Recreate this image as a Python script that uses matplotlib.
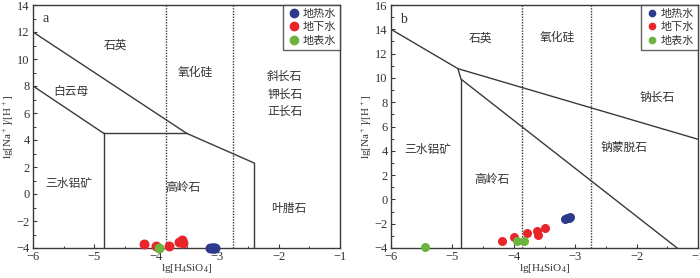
import numpy as np
import matplotlib.pyplot as plt
from matplotlib.lines import Line2D

plt.rcParams['font.family'] = ['Liberation Serif', 'Noto Sans CJK SC']
plt.rcParams['mathtext.fontset'] = 'custom'
plt.rcParams['mathtext.rm'] = 'Liberation Serif'

LINE_C = "#3a3a3a"
TEXT_C = "#333333"
COLORS = {"地热水": "#2e3a8c", "地下水": "#e8262a", "地表水": "#6cb33f"}

# ---------------- panel a data ----------------
a_geo_x = [-3.11, -3.09, -3.07, -3.05, -3.03]
a_geo_y = [-4.0, -4.0, -4.0, -4.0, -4.0]
a_gw_x = [-4.2, -3.99, -3.79, -3.63, -3.58, -3.55]
a_gw_y = [-3.71, -3.85, -3.85, -3.56, -3.42, -3.64]
a_sw_x = [-3.94]
a_sw_y = [-4.0]

# phase boundaries (a)
a_quartz = ([-6, -3.5, -2.4], [12, 4.5, 2.3])
a_musc = ([-6, -4.85], [8, 4.5])
a_kaol_top = ([-4.85, -3.5], [4.5, 4.5])
a_gibb = ([-4.85, -4.85], [4.5, -4])
a_pyro = ([-2.4, -2.4], [2.3, -4])
a_dotted = [-3.84, -2.75]

# ---------------- panel b data ----------------
b_geo_x = [-3.16, -3.13, -3.10, -3.08]
b_geo_y = [-1.58, -1.55, -1.5, -1.42]
b_gw_x = [-4.2, -4.0, -3.78, -3.63, -3.6, -3.5]
b_gw_y = [-3.44, -3.11, -2.79, -2.63, -2.95, -2.39]
b_sw_x = [-5.45, -3.94, -3.84]
b_sw_y = [-3.9, -3.44, -3.44]

b_upper = ([-6, -4.91, -1], [14, 10.76, 4.95])
b_kaol = ([-4.91, -4.86, -1.34], [10.76, 9.9, -4])
b_gibb = ([-4.86, -4.86], [9.9, -4])
b_dotted = [-3.86, -2.75]

fig = plt.figure(figsize=(7.0, 2.78), dpi=100)
ax_a = fig.add_axes([33 / 700, 1 - 248 / 278, 307 / 700, 243 / 278])
ax_b = fig.add_axes([391 / 700, 1 - 248 / 278, 307 / 700, 243 / 278])


def style_axes(ax, ymax, yticks):
    ax.set_xlim(-6, -1)
    ax.set_ylim(-4, ymax)
    ax.set_xticks([-6, -5, -4, -3, -2, -1])
    ax.set_xticklabels(["\u22126", "\u22125", "\u22124", "\u22123", "\u22122", "\u22121"])
    ax.set_xticks(np.arange(-6, -0.99, 0.5), minor=True)
    ax.set_yticks(yticks)
    ax.set_yticklabels([("\u2212" + str(-v)) if v < 0 else str(v) for v in yticks])
    ax.set_yticks(np.arange(-4, ymax + 0.01, 1), minor=True)
    ax.tick_params(axis="both", which="both", direction="in", colors=LINE_C,
                   labelcolor=TEXT_C, labelsize=9)
    ax.tick_params(which="major", length=3, width=0.8, pad=2.5)
    ax.tick_params(which="minor", length=1.8, width=0.7)
    for s in ax.spines.values():
        s.set_color(LINE_C)
        s.set_linewidth(1.0)
    ax.set_xlabel(r"lg[H$_4$SiO$_4$]", fontsize=8, color=TEXT_C, labelpad=-1)
    ax.set_ylabel(r"lg[Na$^+$]/[H$^+$]", fontsize=8, color=TEXT_C, labelpad=0)


def legend(ax, ms):
    handles = [Line2D([], [], ls="none", marker="o", ms=ms, color=c, label=k)
               for k, c in COLORS.items()]
    leg = ax.legend(handles=handles, loc="upper right", frameon=True,
                    fancybox=False, borderaxespad=0, handletextpad=0.2,
                    handlelength=1.2, labelspacing=0.3, borderpad=0.35,
                    prop={"family": ["Noto Sans CJK SC"], "size": 8})
    leg.get_frame().set_edgecolor(LINE_C)
    leg.get_frame().set_linewidth(1.0)
    for t in leg.get_texts():
        t.set_color(TEXT_C)


def label(ax, x, y, s):
    ax.text(x, y, s, ha="center", va="center", fontsize=8.5, color=TEXT_C,
            family=["Noto Sans CJK SC"], linespacing=1.45)


# ---------- panel a ----------
style_axes(ax_a, 14, [-4, -2, 0, 2, 4, 6, 8, 10, 12, 14])
for xs, ys in [a_quartz, a_musc, a_kaol_top, a_gibb, a_pyro]:
    ax_a.plot(xs, ys, color=LINE_C, lw=1.0)
for xv in a_dotted:
    ax_a.axvline(xv, color=LINE_C, lw=1.0, ls=(0, (1, 1)))
ax_a.scatter(a_gw_x, a_gw_y, s=38, color=COLORS["地下水"], zorder=3, clip_on=False)
ax_a.scatter(a_geo_x, a_geo_y, s=38, color=COLORS["地热水"], zorder=3, clip_on=False)
ax_a.scatter(a_sw_x, a_sw_y, s=38, color=COLORS["地表水"], zorder=4, clip_on=False)
legend(ax_a, 6)
ax_a.text(-5.8, 13.0, "a", fontsize=10, color=TEXT_C, ha="center", va="center")
label(ax_a, -4.65, 11.0, "石英")
label(ax_a, -3.35, 9.0, "氧化硅")
label(ax_a, -1.9, 7.4, "斜长石\n钾长石\n正长石")
label(ax_a, -5.38, 7.6, "白云母")
label(ax_a, -5.42, 0.8, "三水铝矿")
label(ax_a, -3.56, 0.45, "高岭石")
label(ax_a, -1.84, -1.1, "叶腊石")

# ---------- panel b ----------
style_axes(ax_b, 16, [-4, -2, 0, 2, 4, 6, 8, 10, 12, 14, 16])
for xs, ys in [b_upper, b_kaol, b_gibb]:
    ax_b.plot(xs, ys, color=LINE_C, lw=1.0)
for xv in b_dotted:
    ax_b.axvline(xv, color=LINE_C, lw=1.0, ls=(0, (1, 1)))
ax_b.scatter(b_gw_x, b_gw_y, s=30, color=COLORS["地下水"], zorder=3, clip_on=False)
ax_b.scatter(b_geo_x, b_geo_y, s=30, color=COLORS["地热水"], zorder=3, clip_on=False)
ax_b.scatter(b_sw_x, b_sw_y, s=30, color=COLORS["地表水"], zorder=4, clip_on=False)
legend(ax_b, 4.5)
ax_b.text(-5.8, 14.8, "b", fontsize=10, color=TEXT_C, ha="center", va="center")
label(ax_b, -4.54, 13.3, "石英")
label(ax_b, -3.29, 13.3, "氧化硅")
label(ax_b, -1.67, 8.4, "钠长石")
label(ax_b, -5.4, 4.1, "三水铝矿")
label(ax_b, -4.35, 1.6, "高岭石")
label(ax_b, -2.2, 4.3, "钠蒙脱石")

fig.savefig("out.png", dpi=100)
